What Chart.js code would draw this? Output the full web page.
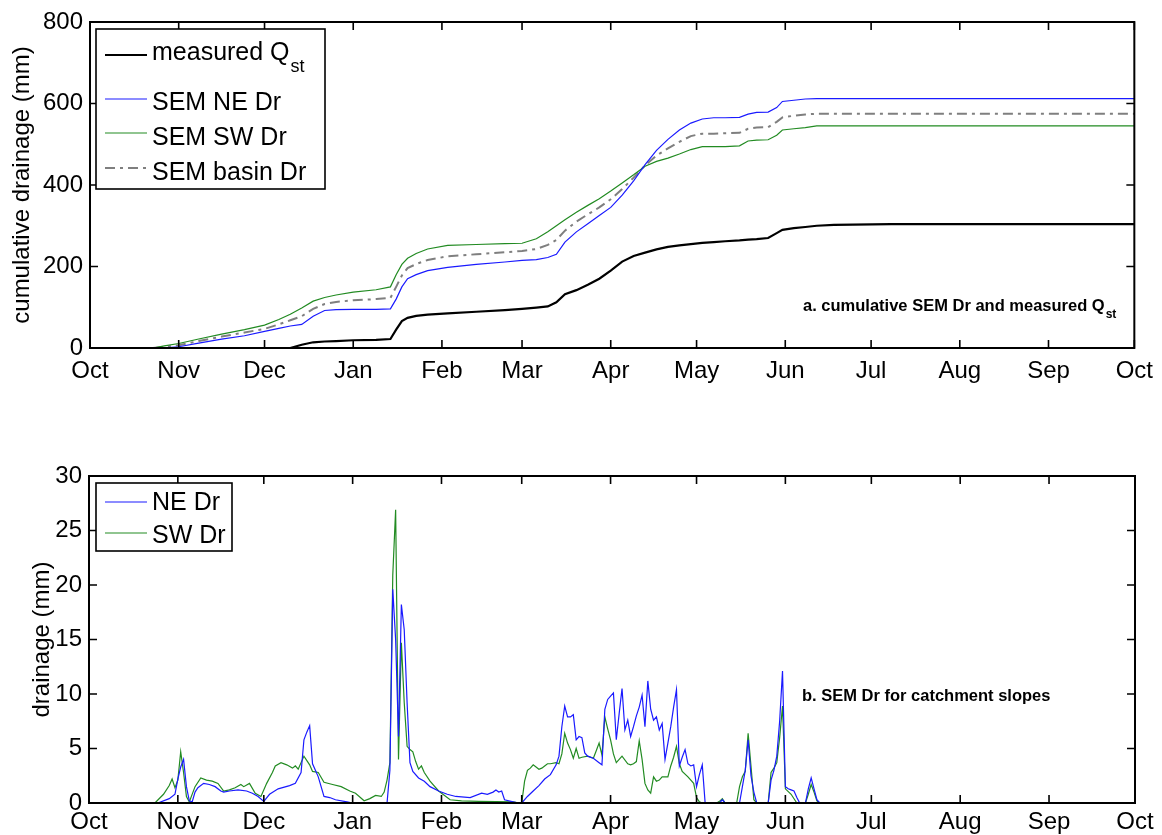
<!DOCTYPE html>
<html>
<head>
<meta charset="utf-8">
<title>SEM drainage</title>
<script src="https://cdn.jsdelivr.net/npm/chart.js@4.4.0/dist/chart.umd.min.js"></script>
<style>
  html, body { margin: 0; padding: 0; background: #fff; }
  #wrap { position: relative; width: 1162px; height: 835px; overflow: hidden; }
  canvas { position: absolute; left: 0; }
  #cumChart { top: 0; }
  #dailyChart { top: 420px; }
</style>
</head>
<body>
<div id="wrap">
  <canvas id="cumChart" width="1162" height="400"></canvas>
  <canvas id="dailyChart" width="1162" height="415"></canvas>
</div>
<script>
// x axis: days since 1 Oct, labelled at the first of each month
const monthTicks = [0, 31, 61, 92, 123, 151, 182, 212, 243, 273, 304, 335, 365];
const monthLabels = ['Oct', 'Nov', 'Dec', 'Jan', 'Feb', 'Mar', 'Apr', 'May', 'Jun', 'Jul', 'Aug', 'Sep', 'Oct'];

// cumulative drainage (mm)
const cumDays = [22, 26, 31, 38, 46, 54, 61, 66, 70, 74, 78, 82, 86, 92, 100, 105, 107, 109, 111, 114,
  118, 125, 135, 145, 151, 156, 160, 163, 166, 170, 174, 178, 182, 186, 190, 194, 198, 202, 206, 210,
  214, 218, 222, 227, 230, 233, 237, 240, 242, 246, 250, 254, 260, 280, 365];
const measuredQst = [0, 0, 0, 0, 0, 0, 0, 0, 0, 8, 14, 16, 17, 19, 20, 22, 45, 66, 74, 79,
  82, 85, 89, 93, 96, 99, 102, 112, 132, 142, 155, 170, 190, 212, 226, 234, 242, 248, 252, 255,
  258, 260, 262, 264, 266, 267, 270, 282, 290, 294, 297, 300, 302, 304, 304];
const neCum = [0, 0.5, 3, 12, 22, 30, 41, 48, 54, 58, 78, 92, 94, 95, 95, 96, 120, 150, 170, 180,
  190, 198, 205, 211, 215, 217, 222, 230, 260, 285, 305, 325, 345, 375, 410, 450, 485, 512, 535, 552,
  562, 565, 565, 566, 574, 578, 579, 590, 605, 608, 611, 612, 612, 612, 612];
const swCum = [0, 5, 11, 22, 34, 45, 56, 70, 83, 98, 115, 124, 130, 137, 143, 150, 180, 205, 220, 232,
  243, 252, 254, 256, 257, 268, 285, 300, 315, 333, 350, 366, 385, 405, 425, 446, 458, 466, 476, 487,
  494, 494, 494, 496, 508, 510, 511, 522, 535, 538, 541, 545, 545, 545, 545];
const basinCum = [0, 3, 7, 17, 28, 38, 47, 58, 68, 78, 96, 108, 113, 117, 120, 123, 150, 178, 196, 206,
  216, 225, 230, 235, 238, 243, 253, 265, 288, 310, 328, 345, 365, 390, 418, 448, 472, 490, 506, 520,
  526, 526, 527, 528, 538, 541, 542, 555, 566, 570, 573, 575, 575, 575, 575];

// daily drainage (mm), NE slope
const neDays = [24, 28, 30, 31, 32, 33, 34, 35, 36, 37, 38, 40, 42, 44, 46, 47, 49, 52, 55, 57,
  59, 61, 63, 66, 70, 72, 74, 75, 76, 77, 78, 79, 80, 82, 84, 86, 90, 92, 104, 105,
  106, 107, 108, 109, 110, 111, 112, 113, 115, 117, 119, 122, 125, 128, 133, 137, 139, 141, 142, 143,
  144, 145, 148, 150, 151, 153, 155, 157, 159, 161, 163, 164, 165, 166, 167, 168, 169, 170, 171, 172,
  173, 174, 176, 178, 179, 180, 181, 182, 183, 184, 185, 186, 187, 188, 189, 190, 191, 192, 193, 194,
  195, 196, 197, 198, 199, 200, 201, 202, 203, 204, 205, 206, 207, 208, 209, 210, 211, 212, 213, 214,
  215, 220, 221, 222, 227, 228, 229, 230, 231, 232, 233, 237, 238, 239, 240, 241, 242, 243, 244, 245,
  246, 247, 248, 250, 251, 252, 253, 254, 255];
const neDr = [0, 0.4, 0.8, 2.2, 3.3, 4.0, 1.5, 0.2, 0.1, 1.0, 1.4, 1.8, 1.7, 1.5, 1.1, 1.0, 1.1, 1.2, 1.1, 0.9,
  0.6, 0.15, 0.8, 1.3, 1.6, 1.8, 2.8, 5.8, 6.5, 7.1, 3.6, 3.0, 2.4, 0.6, 0.5, 0.3, 0.1, 0, 0, 3.0,
  19.6, 15.0, 6.1, 18.2, 15.9, 9.2, 3.7, 2.9, 2.3, 2.0, 1.5, 1.1, 0.8, 0.6, 0.5, 0.9, 0.8, 1.0, 1.2, 1.0,
  1.1, 0.3, 0.1, 0, 0, 0.6, 1.1, 1.6, 2.2, 2.6, 3.5, 4.3, 7.0, 8.9, 7.9, 7.9, 8.1, 5.8, 6.1, 6.0,
  4.6, 4.3, 4.1, 3.7, 3.5, 8.6, 9.5, 9.8, 10.1, 5.8, 8.2, 10.5, 6.7, 7.6, 6.1, 7.0, 8.0, 8.8, 9.9, 7.0,
  11.2, 8.6, 7.6, 7.9, 6.7, 7.3, 4.0, 5.5, 7.0, 8.8, 10.4, 3.4, 4.2, 4.9, 3.6, 3.4, 3.5, 1.5, 2.6, 3.5,
  0, 0, 0.3, 0, 0, 1.5, 3.0, 5.8, 2.5, 1.0, 0, 0, 2.1, 3.0, 4.3, 7.5, 12.1, 1.5, 1.3, 1.2,
  1.1, 0.5, 0, 0, 1.3, 2.3, 1.3, 0.3, 0];

// daily drainage (mm), SW slope
const swDays = [23, 26, 28, 29, 30, 31, 32, 33, 34, 35, 37, 39, 41, 43, 45, 47, 49, 51, 53, 54,
  56, 58, 60, 62, 64, 65, 67, 69, 71, 72, 73, 75, 77, 78, 80, 82, 85, 88, 91, 93,
  96, 98, 100, 102, 103, 104, 105, 106, 107, 108, 109, 110, 111, 112, 113, 114, 115, 116, 117, 119,
  122, 126, 130, 136, 148, 150, 151, 152, 153, 154, 155, 156, 157, 158, 159, 160, 161, 163, 164, 165,
  166, 167, 168, 169, 170, 171, 172, 174, 176, 177, 178, 179, 180, 181, 182, 183, 184, 186, 188, 189,
  190, 191, 192, 193, 194, 195, 196, 197, 198, 199, 200, 202, 203, 204, 205, 206, 207, 209, 211, 212,
  213, 214, 219, 220, 221, 222, 226, 227, 228, 229, 230, 231, 232, 233, 237, 238, 239, 240, 241, 242,
  243, 245, 247, 250, 251, 252, 253, 254, 255];
const swDr = [0, 0.8, 1.6, 2.2, 1.4, 2.1, 4.7, 2.8, 0.6, 0.1, 1.5, 2.3, 2.1, 2.0, 1.8, 1.1, 1.2, 1.4, 1.7, 1.5,
  1.8, 0.9, 0.6, 1.8, 2.8, 3.4, 3.7, 3.5, 3.2, 3.4, 3.1, 4.3, 3.5, 2.9, 2.8, 1.9, 1.7, 1.5, 1.1, 0.9,
  0.2, 0.4, 0.7, 0.6, 1.0, 2.1, 3.7, 20.9, 26.9, 4.0, 14.7, 9.2, 5.2, 4.9, 4.7, 3.8, 3.1, 3.4, 2.8, 2.0,
  1.1, 0.3, 0.2, 0.15, 0.1, 0, 0, 2.0, 3.0, 3.2, 3.5, 3.3, 3.1, 3.2, 3.4, 3.6, 3.6, 3.7, 3.6, 4.5,
  6.4, 5.5, 4.9, 4.1, 5.0, 4.1, 4.2, 4.3, 4.1, 4.8, 5.5, 4.4, 7.9, 6.8, 5.8, 4.5, 3.7, 4.3, 3.6, 3.5,
  3.6, 3.8, 5.7, 4.0, 1.8, 1.2, 0.9, 2.4, 2.0, 2.1, 2.4, 2.4, 3.4, 4.2, 5.2, 3.6, 2.9, 2.4, 1.8, 0.5,
  0.1, 0, 0, 0.15, 0.4, 0, 0, 1.5, 2.4, 2.9, 6.4, 3.4, 0.3, 0, 0, 2.8, 3.2, 3.7, 6.0, 8.9,
  1.3, 0.8, 0, 0, 0.8, 1.7, 1.0, 0.2, 0];

const FONT = "'Liberation Sans', Arial, Helvetica, sans-serif";
Chart.defaults.font.family = FONT;
Chart.defaults.color = '#000';

const BLUE = '#1a1aff';
const GREEN = '#228b22';
const GREY = '#7f7f7f';

function pts(days, vals) {
  return days.map((d, i) => ({ x: d, y: vals[i] }));
}

// text with an optional subscript after '_'
function drawSubText(ctx, text, x, y, font, subFont, drop) {
  const [main, sub] = text.split('_');
  ctx.font = font;
  ctx.fillText(main, x, y);
  if (sub) {
    const w = ctx.measureText(main).width;
    ctx.font = subFont;
    ctx.fillText(sub, x + w + 1, y + drop);
  }
}

// closed box with inward ticks on all four sides
const boxAxes = {
  id: 'boxAxes',
  afterDatasetsDraw(chart) {
    const { ctx, chartArea: a, scales } = chart;
    const len = 8;
    ctx.save();
    ctx.strokeStyle = '#000';
    ctx.lineWidth = 1.6;
    ctx.beginPath();
    scales.x.ticks.forEach(t => {
      const p = scales.x.getPixelForValue(t.value);
      ctx.moveTo(p, a.bottom); ctx.lineTo(p, a.bottom - len);
      ctx.moveTo(p, a.top); ctx.lineTo(p, a.top + len);
    });
    scales.y.ticks.forEach(t => {
      const p = scales.y.getPixelForValue(t.value);
      ctx.moveTo(a.left, p); ctx.lineTo(a.left + len, p);
      ctx.moveTo(a.right, p); ctx.lineTo(a.right - len, p);
    });
    ctx.stroke();
    ctx.lineWidth = 2;
    ctx.strokeRect(a.left, a.top, a.right - a.left, a.bottom - a.top);
    ctx.restore();
  }
};

// boxed legend in the upper left corner
const boxLegend = {
  id: 'boxLegend',
  afterDraw(chart, args, o) {
    const { ctx } = chart;
    ctx.save();
    ctx.fillStyle = '#fff';
    ctx.fillRect(o.left, o.top, o.width, o.height);
    ctx.strokeStyle = '#000';
    ctx.lineWidth = 1.6;
    ctx.strokeRect(o.left, o.top, o.width, o.height);
    chart.data.datasets.forEach((ds, i) => {
      const row = o.rows[i];
      ctx.strokeStyle = ds.borderColor;
      ctx.lineWidth = ds.borderWidth;
      ctx.setLineDash(ds.borderDash || []);
      ctx.beginPath();
      ctx.moveTo(o.lineFrom, row.line);
      ctx.lineTo(o.lineTo, row.line);
      ctx.stroke();
      ctx.setLineDash([]);
      ctx.fillStyle = '#000';
      ctx.textBaseline = 'alphabetic';
      drawSubText(ctx, ds.label, o.textX, row.base, o.font, o.subFont, o.subDrop);
    });
    ctx.restore();
  }
};

// panel caption inside the plot
const panelNote = {
  id: 'panelNote',
  afterDraw(chart, args, o) {
    const { ctx } = chart;
    ctx.save();
    ctx.fillStyle = '#000';
    ctx.textBaseline = 'alphabetic';
    drawSubText(ctx, o.text, o.x, o.y, o.font, o.subFont, o.subDrop);
    ctx.restore();
  }
};

function xAxis(height, pad) {
  return {
    type: 'linear',
    min: 0,
    max: 365,
    grid: { display: false, drawTicks: false },
    border: { display: false },
    afterBuildTicks: s => { s.ticks = monthTicks.map(v => ({ value: v })); },
    afterFit: s => { s.height = height; },
    ticks: {
      autoSkip: false,
      maxRotation: 0,
      padding: pad,
      font: { size: 24 },
      callback: (v, i) => monthLabels[i]
    }
  };
}

function yAxis(width, max, step, title, titlePad) {
  return {
    min: 0,
    max: max,
    grid: { display: false, drawTicks: false },
    border: { display: false },
    afterFit: s => { s.width = width; },
    ticks: { stepSize: step, padding: 7, font: { size: 24 } },
    title: { display: true, text: title, font: { size: 24 }, padding: { top: titlePad, bottom: 0 } }
  };
}

const lineDefaults = { pointRadius: 0, tension: 0, fill: false };

new Chart(document.getElementById('cumChart'), {
  type: 'line',
  data: {
    datasets: [
      { ...lineDefaults, label: 'measured Q_st', data: pts(cumDays, measuredQst), borderColor: '#000', borderWidth: 2.2 },
      { ...lineDefaults, label: 'SEM NE Dr', data: pts(cumDays, neCum), borderColor: BLUE, borderWidth: 1.2 },
      { ...lineDefaults, label: 'SEM SW Dr', data: pts(cumDays, swCum), borderColor: GREEN, borderWidth: 1.2 },
      { ...lineDefaults, label: 'SEM basin Dr', data: pts(cumDays, basinCum), borderColor: GREY, borderWidth: 2, borderDash: [10, 5, 3, 5] }
    ]
  },
  options: {
    responsive: false,
    animation: false,
    events: [],
    layout: { padding: { top: 22, right: 27, left: 0, bottom: 0 } },
    scales: {
      x: xAxis(52, 9),
      y: yAxis(90, 800, 200, 'cumulative drainage (mm)', 8)
    },
    plugins: {
      legend: { display: false },
      tooltip: { enabled: false },
      boxLegend: {
        left: 96, top: 29, width: 229, height: 160,
        lineFrom: 105, lineTo: 147, textX: 152,
        font: '25px ' + FONT, subFont: '18px ' + FONT, subDrop: 12,
        rows: [{ line: 55, base: 60 }, { line: 99, base: 110 }, { line: 133, base: 145 }, { line: 168, base: 180 }]
      },
      panelNote: {
        text: 'a. cumulative SEM Dr and measured Q_st', x: 803, y: 311,
        font: 'bold 16.5px ' + FONT, subFont: 'bold 12px ' + FONT, subDrop: 7
      }
    }
  },
  plugins: [boxAxes, boxLegend, panelNote]
});

new Chart(document.getElementById('dailyChart'), {
  type: 'line',
  data: {
    datasets: [
      { ...lineDefaults, label: 'NE Dr', data: pts(neDays, neDr), borderColor: BLUE, borderWidth: 1.2 },
      { ...lineDefaults, label: 'SW Dr', data: pts(swDays, swDr), borderColor: GREEN, borderWidth: 1.2 }
    ]
  },
  options: {
    responsive: false,
    animation: false,
    events: [],
    layout: { padding: { top: 56, right: 27, left: 0, bottom: 0 } },
    scales: {
      x: xAxis(32, 5),
      y: yAxis(89, 30, 5, 'drainage (mm)', 28)
    },
    plugins: {
      legend: { display: false },
      tooltip: { enabled: false },
      boxLegend: {
        left: 96, top: 63, width: 136, height: 68,
        lineFrom: 105, lineTo: 147, textX: 152,
        font: '25px ' + FONT, subFont: '18px ' + FONT, subDrop: 12,
        rows: [{ line: 82, base: 90 }, { line: 113, base: 122.5 }]
      },
      panelNote: {
        text: 'b. SEM Dr for catchment slopes', x: 802, y: 281,
        font: 'bold 16.5px ' + FONT, subFont: 'bold 12px ' + FONT, subDrop: 7
      }
    }
  },
  plugins: [boxAxes, boxLegend, panelNote]
});
</script>
</body>
</html>
